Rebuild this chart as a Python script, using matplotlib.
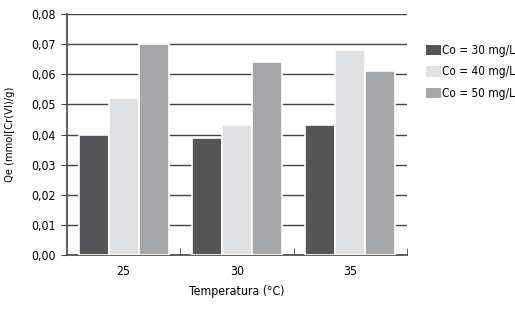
import matplotlib
matplotlib.use("Agg")
import matplotlib.pyplot as plt
import numpy as np
from matplotlib.patches import Patch

plt.rcParams['font.family'] = ['DejaVu Sans']
plt.rcParams['font.stretch'] = 'condensed'

categories = ["25", "30", "35"]
series_labels = ["Co = 30 mg/L", "Co = 40 mg/L", "Co = 50 mg/L"]
co30 = [0.040, 0.039, 0.043]
co40 = [0.052, 0.043, 0.068]
co50 = [0.070, 0.064, 0.061]
colors = ["#555557", "#e0e1e3", "#a6a7a9"]
yticks = [0.00, 0.01, 0.02, 0.03, 0.04, 0.05, 0.06, 0.07, 0.08]

fig = plt.figure(figsize=(5.15, 3.11), dpi=100)
ax = fig.add_axes([0.130, 0.180, 0.660, 0.775])

x = np.arange(len(categories))
w = 0.265
for i, (vals, c) in enumerate(zip([co30, co40, co50], colors)):
    ax.bar(x + (i - 1) * w, vals, width=w, color=c, edgecolor="white", linewidth=1.2, zorder=3)

ax.set_xlim(-0.5, 2.5)
ax.set_ylim(0, 0.08)
ax.set_yticks(yticks)
ax.set_yticklabels([f"{v:.2f}".replace(".", ",") for v in yticks], fontsize=8.8)
ax.yaxis.grid(True, color="#444444", linewidth=1.0, zorder=1)
ax.set_axisbelow(False)

ax.set_xticks(x)
ax.set_xticklabels(categories, fontsize=8.8)
ax.tick_params(axis="x", length=0, pad=7)
ax.set_xticks([0.5, 1.5, 2.5], minor=True)
ax.tick_params(axis="x", which="minor", direction="in", length=5, color="#444444")
ax.tick_params(axis="y", direction="out", length=4, color="#444444", pad=4)

for s in ["top", "right"]:
    ax.spines[s].set_visible(False)
ax.spines["left"].set_color("#444444")
ax.spines["bottom"].set_color("#444444")
ax.spines["left"].set_linewidth(1.2)
ax.spines["bottom"].set_linewidth(1.2)

ax.set_xlabel("Temperatura (°C)", fontsize=8.8, labelpad=5)
ax.set_ylabel("Qe (mmol[Cr(VI)/g)", fontsize=8, labelpad=12)

handles = [Patch(facecolor=c, edgecolor="none") for c in colors]
fig.legend(handles, series_labels, loc="upper left", bbox_to_anchor=(0.806, 0.893),
           frameon=False, fontsize=8.5, handlelength=1.3, handleheight=1.0,
           handletextpad=0.05, labelspacing=0.72)

fig.savefig("out.png", dpi=100)
